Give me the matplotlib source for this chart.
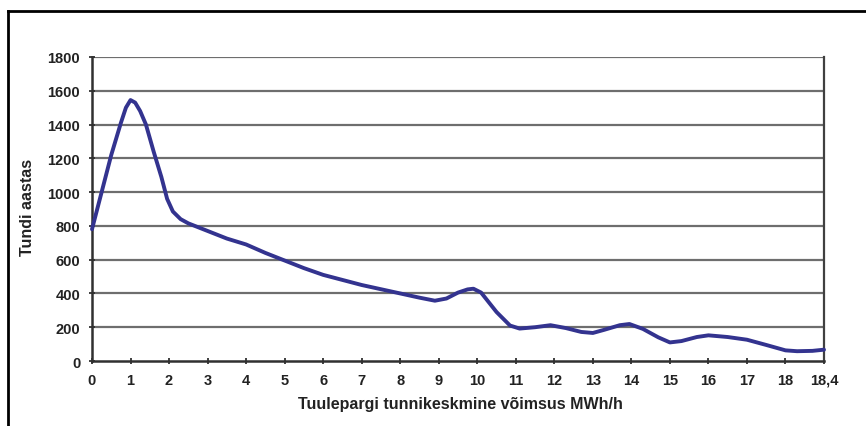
import matplotlib
matplotlib.use("Agg")
import matplotlib.pyplot as plt
from matplotlib.lines import Line2D

plt.rcParams['font.family'] = ['Liberation Sans', 'DejaVu Sans']

# category labels on the x axis (equally spaced, last one is 18,4)
x_labels = [str(i) for i in range(19)] + ["18,4"]

# curve: position in category units -> hours per year
curve_pos = [0.0, 0.25, 0.5, 0.75, 0.88, 1.0, 1.12, 1.25, 1.4, 1.6, 1.8, 1.95,
             2.1, 2.3, 2.5, 3.0, 3.5, 4.0, 4.5, 5.0, 5.5, 6.0, 6.5, 7.0, 7.5,
             8.0, 8.5, 8.9, 9.2, 9.5, 9.75, 9.9, 10.1, 10.5, 10.85, 11.1,
             11.5, 11.9, 12.3, 12.7, 13.0, 13.3, 13.7, 13.95, 14.3, 14.7,
             15.0, 15.3, 15.7, 16.0, 16.5, 17.0, 17.5, 18.0, 18.3, 18.7, 19.0]
hours = [780, 1000, 1220, 1410, 1500, 1545, 1530, 1480, 1400, 1240, 1090, 960,
         885, 840, 815, 770, 725, 690, 640, 595, 550, 510, 480, 450, 425,
         400, 375, 357, 370, 405, 424, 428, 405, 290, 210, 192,
         200, 212, 195, 172, 166, 185, 212, 219, 190, 140,
         110, 118, 142, 152, 142, 126, 95, 63, 58, 60, 67]

y_ticks = list(range(0, 1801, 200))

fig = plt.figure(figsize=(8.66, 4.27), dpi=100)
ax = fig.add_axes([92 / 866, 1 - 362 / 427, 732 / 866, 304 / 427])

ax.set_xlim(0, len(x_labels) - 1)
ax.set_ylim(0, 1800)
ax.set_yticks(y_ticks)
ax.set_xticks(range(len(x_labels)))
ax.set_xticklabels(x_labels)

for v in y_ticks[1:]:
    ax.axhline(v, color="#6e6e6e", lw=1.6, zorder=1)

ax.plot(curve_pos, hours, color="#33338f", lw=2.8, solid_joinstyle="round",
        solid_capstyle="round", zorder=3, clip_on=False)

for side in ["left", "bottom"]:
    ax.spines[side].set_color("#303030")
    ax.spines[side].set_linewidth(1.8)
ax.spines["right"].set_color("#404040")
ax.spines["right"].set_linewidth(1.6)
ax.spines["top"].set_visible(False)

ax.tick_params(axis="both", direction="inout", length=5, width=1.3,
               color="#303030", labelsize=10.5)
ax.tick_params(axis="x", pad=6)
ax.tick_params(axis="y", pad=6)
for lbl in ax.get_xticklabels() + ax.get_yticklabels():
    lbl.set_fontweight("bold")
    lbl.set_color("#222222")

fig.text(460 / 866, 1 - 405 / 427, "Tuulepargi tunnikeskmine võimsus MWh/h",
         ha="center", va="center", fontsize=11.5, fontweight="bold", color="#222222")
fig.text(28 / 866, 1 - 207 / 427, "Tundi aastas", rotation=90,
         ha="center", va="center", fontsize=11.5, fontweight="bold", color="#222222")

# outer frame (left and top edges only)
fig.add_artist(Line2D([8 / 866, 8 / 866], [0, 1 - 12 / 427], color="black", lw=2))
fig.add_artist(Line2D([8 / 866, 1], [1 - 12 / 427, 1 - 12 / 427], color="black", lw=2))

fig.savefig("out.png", dpi=100)
